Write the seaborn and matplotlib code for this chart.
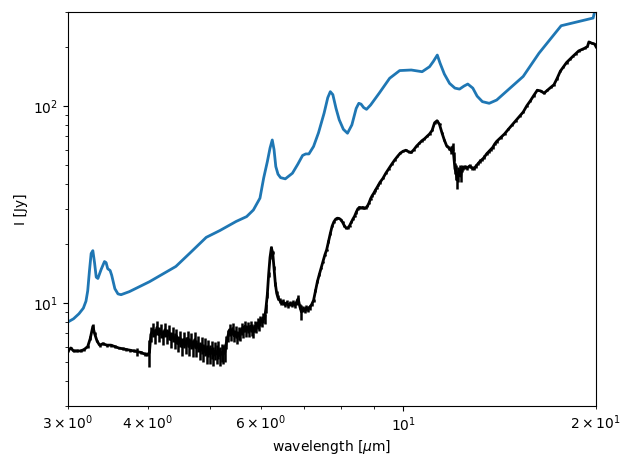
import matplotlib
matplotlib.use("Agg")
import matplotlib.pyplot as plt
import seaborn as sns
import pandas as pd

# Model (blue) curve
model_wave = [3.00, 3.06, 3.12, 3.17, 3.20, 3.22, 3.24, 3.26, 3.28, 3.30, 3.32, 3.34, 3.38, 3.42,
              3.44, 3.46, 3.49, 3.51, 3.55, 3.59, 3.63, 3.74, 4.02, 4.42, 4.65, 4.93, 5.18, 5.49,
              5.70, 5.84, 5.98, 6.06, 6.14, 6.20, 6.25, 6.29, 6.33, 6.38, 6.44, 6.55, 6.72, 6.85,
              6.97, 7.05, 7.13, 7.25, 7.38, 7.53, 7.63, 7.70, 7.77, 7.86, 7.95, 8.07, 8.19, 8.32,
              8.45, 8.53, 8.60, 8.68, 8.77, 8.90, 9.18, 9.53, 9.88, 10.3, 10.71, 11.0, 11.15, 11.31,
              11.42, 11.6, 11.82, 12.05, 12.25, 12.45, 12.62, 12.85, 13.05, 13.3, 13.63, 14.0, 15.4,
              16.3, 17.65, 19.8, 20.0]
model_flux = [8.0, 8.3, 8.8, 9.4, 10.2, 11.5, 14.5, 17.8, 18.4, 16.0, 13.5, 13.3, 14.8, 16.2,
              16.0, 14.9, 14.6, 13.8, 11.8, 11.1, 11.0, 11.4, 12.8, 15.3, 17.9, 21.5, 23.3, 25.9,
              27.4, 29.6, 34.0, 43.0, 52.0, 61.0, 67.1, 60.0, 49.2, 45.0, 43.2, 42.6, 45.5, 50.5,
              56.0, 57.0, 57.0, 62.2, 73.0, 91.8, 110.0, 118.0, 114.0, 97.0, 85.0, 76.0, 72.6, 80.0,
              97.0, 103.0, 102.0, 98.0, 96.0, 101.0, 116.0, 138.0, 151.0, 152.0, 149.0, 158.0, 168.0, 181.0,
              165.0, 145.0, 130.0, 123.0, 121.6, 126.0, 129.0, 123.0, 112.0, 105.0, 103.0, 107.0, 141.0,
              185.0, 255.0, 279.0, 320.0]

# Observed (black) spectrum with uncertainties
obs_wave = [3.00, 3.03, 3.06, 3.10, 3.14, 3.18, 3.22, 3.25, 3.28, 3.30, 3.33, 3.36, 3.40, 3.45,
            3.50, 3.55, 3.60, 3.65, 3.70, 3.75, 3.80, 3.85, 3.90, 3.95, 3.99, 4.02,
            4.04, 4.07, 4.10, 4.13, 4.16, 4.19, 4.22, 4.25, 4.28, 4.31, 4.34, 4.37, 4.40, 4.43,
            4.46, 4.49, 4.52, 4.55, 4.58, 4.61, 4.64, 4.67, 4.70, 4.73, 4.76, 4.79, 4.82, 4.85,
            4.88, 4.91, 4.94, 4.97, 5.00, 5.03, 5.06, 5.09, 5.12, 5.15, 5.18, 5.21, 5.24, 5.27,
            5.30, 5.33, 5.36, 5.39, 5.42, 5.45, 5.48, 5.51, 5.54, 5.57, 5.60, 5.63, 5.66, 5.69,
            5.72, 5.75, 5.78, 5.81, 5.84, 5.87, 5.90, 5.93, 5.96, 5.99, 6.02, 6.05, 6.08, 6.11,
            6.14, 6.17, 6.20, 6.23, 6.26, 6.29, 6.32, 6.35, 6.38, 6.42, 6.46, 6.50, 6.54, 6.58,
            6.62, 6.66, 6.70, 6.74, 6.78, 6.82, 6.86, 6.90, 6.94, 6.98, 7.02, 7.06, 7.10, 7.15,
            7.20, 7.25, 7.30, 7.35, 7.40, 7.45, 7.50, 7.55, 7.60, 7.65, 7.70, 7.75, 7.80, 7.85,
            7.90, 7.95, 8.00, 8.05, 8.10, 8.15, 8.20, 8.25, 8.30, 8.35, 8.40, 8.45, 8.50, 8.55,
            8.60, 8.65, 8.70, 8.75, 8.80, 8.85, 8.90, 8.95, 9.00, 9.05, 9.10, 9.15, 9.20, 9.30,
            9.40, 9.50, 9.60, 9.70, 9.80, 9.90, 10.0, 10.1, 10.2, 10.3, 10.4, 10.5, 10.6, 10.7,
            10.8, 10.9, 11.0, 11.1, 11.2, 11.3, 11.4, 11.5, 11.6, 11.7, 11.8, 11.9, 11.95, 12.0,
            12.05, 12.1, 12.15, 12.2, 12.25, 12.3, 12.35, 12.4, 12.5, 12.6, 12.7, 12.8, 12.9, 13.0,
            13.1, 13.2, 13.3, 13.4, 13.5, 13.6, 13.7, 13.8, 13.9, 14.0, 14.2, 14.4, 14.6, 14.8,
            15.0, 15.2, 15.4, 15.6, 15.8, 16.0, 16.2, 16.4, 16.6, 16.8, 17.0, 17.2, 17.4, 17.6,
            17.8, 18.0, 18.2, 18.4, 18.6, 18.8, 19.0, 19.2, 19.4, 19.5, 19.7, 19.9, 20.0]
obs_flux = [5.7, 5.9, 5.7, 5.7, 5.7, 5.8, 6.0, 6.6, 7.6, 7.0, 6.4, 6.1, 6.2, 6.1,
            6.1, 6.0, 5.9, 5.85, 5.8, 5.75, 5.7, 5.65, 5.6, 5.5, 5.45, 5.6,
            6.9, 7.3, 6.8, 7.5, 6.9, 7.2, 6.7, 7.3, 6.8, 7.1, 6.5, 6.9, 6.4, 6.8,
            6.2, 6.6, 6.0, 6.5, 6.1, 6.6, 6.0, 6.4, 5.9, 6.5, 5.9, 6.2, 5.7, 6.1,
            5.6, 6.0, 5.5, 5.9, 5.5, 5.8, 5.4, 5.7, 5.5, 5.8, 5.4, 5.6, 5.5, 5.6,
            6.3, 6.8, 7.3, 6.9, 7.4, 6.8, 7.1, 6.7, 7.0, 6.9, 7.4, 7.1, 7.6, 7.2,
            7.5, 7.2, 7.6, 7.3, 7.1, 7.6, 7.5, 7.9, 7.7, 8.1, 8.0, 8.4, 8.3, 9.4,
            11.0, 14.0, 17.0, 19.0, 18.0, 15.0, 12.5, 11.2, 10.6, 10.3, 10.0, 10.1, 9.8, 10.0,
            9.7, 9.9, 9.8, 10.0, 9.7, 10.1, 10.5, 9.6, 9.0, 9.3, 9.2, 9.4, 9.3, 9.5,
            9.8, 10.3, 11.5, 12.8, 13.9, 15.0, 16.2, 17.5, 18.6, 20.5, 22.5, 24.5, 25.8, 26.6,
            26.9, 26.8, 26.4, 25.6, 24.6, 24.0, 24.0, 24.6, 25.6, 26.6, 27.5, 28.8, 30.0, 30.5,
            30.4, 30.5, 30.2, 30.4, 31.0, 32.2, 33.8, 35.0, 36.0, 37.2, 38.3, 39.5, 40.8, 42.8,
            45.5, 48.0, 50.5, 53.0, 55.3, 57.5, 58.8, 59.5, 58.5, 58.0, 60.0, 62.5, 64.5, 66.5,
            68.0, 70.0, 72.0, 75.0, 82.0, 84.0, 80.5, 73.0, 67.0, 62.5, 61.0, 59.0, 62.0, 55.5,
            48.0, 46.0, 42.0, 45.0, 47.0, 44.0, 48.0, 48.5, 49.0, 48.5, 49.5, 48.5, 48.0, 49.5,
            51.0, 52.5, 53.5, 55.0, 57.0, 58.5, 60.0, 61.5, 64.0, 66.0, 69.0, 72.0, 76.0, 80.0,
            84.0, 88.5, 93.0, 100.0, 106.0, 113.0, 120.0, 119.0, 116.0, 120.0, 124.0, 128.0, 138.0, 150.0,
            158.0, 166.0, 172.0, 178.0, 184.0, 190.0, 193.0, 196.0, 200.0, 211.0, 208.0, 206.0, 200.0]
obs_err = [0.1, 0.1, 0.1, 0.1, 0.1, 0.1, 0.1, 0.15, 0.2, 0.15, 0.1, 0.1, 0.1, 0.1,
           0.1, 0.1, 0.1, 0.1, 0.1, 0.1, 0.1, 0.25, 0.1, 0.1, 0.1, 0.9,
           0.6, 0.6, 0.6, 0.6, 0.6, 0.6, 0.6, 0.6, 0.6, 0.6, 0.6, 0.6, 0.6, 0.6,
           0.6, 0.6, 0.6, 0.6, 0.6, 0.6, 0.6, 0.6, 0.6, 0.6, 0.6, 0.6, 0.6, 0.6,
           0.6, 0.6, 0.6, 0.6, 0.6, 0.6, 0.6, 0.6, 0.6, 0.6, 0.6, 0.6, 0.6, 0.6,
           0.5, 0.5, 0.5, 0.5, 0.5, 0.5, 0.5, 0.5, 0.5, 0.5, 0.5, 0.5, 0.5, 0.5,
           0.5, 0.5, 0.5, 0.5, 0.5, 0.5, 0.5, 0.5, 0.5, 0.5, 0.5, 0.5, 0.5, 0.5,
           0.4, 0.4, 0.4, 0.4, 0.4, 0.4, 0.3, 0.3, 0.3, 0.3, 0.3, 0.3, 0.3, 0.3,
           0.3, 0.3, 0.3, 0.3, 0.3, 0.3, 0.4, 0.3, 0.8, 0.3, 0.3, 0.3, 0.3, 0.3,
           0.2, 0.2, 0.2, 0.2, 0.2, 0.2, 0.2, 0.2, 0.2, 0.3, 0.3, 0.3, 0.3, 0.3,
           0.3, 0.3, 0.3, 0.3, 0.3, 0.3, 0.3, 0.3, 0.3, 0.3, 0.3, 0.4, 0.4, 0.4,
           0.4, 0.4, 0.4, 0.4, 0.4, 0.4, 0.4, 0.4, 0.4, 0.5, 0.5, 0.5, 0.5, 0.5,
           0.6, 0.6, 0.6, 0.6, 0.6, 0.6, 0.7, 0.7, 0.7, 0.7, 0.7, 0.7, 0.7, 0.8,
           0.8, 0.8, 0.8, 0.9, 0.9, 1.0, 1.0, 1.0, 1.0, 1.0, 1.5, 2.0, 3.0, 3.0,
           3.0, 4.0, 4.0, 4.0, 3.0, 3.0, 2.0, 1.0, 1.0, 1.0, 1.0, 1.0, 1.0, 1.0,
           1.0, 1.0, 1.0, 1.0, 1.0, 1.0, 1.0, 1.0, 1.0, 1.0, 1.0, 1.0, 1.0, 1.0,
           1.0, 1.0, 1.0, 1.0, 1.5, 1.5, 1.5, 1.5, 1.5, 1.5, 1.5, 1.5, 2.0, 2.0,
           2.0, 2.0, 2.0, 2.0, 2.0, 2.0, 2.0, 2.0, 2.0, 3.0, 3.0, 3.0, 3.0]

model_df = pd.DataFrame({"wavelength": model_wave, "flux": model_flux})
obs_df = pd.DataFrame({"wavelength": obs_wave, "flux": obs_flux, "err": obs_err})

fig, ax = plt.subplots(figsize=(6.24, 4.55), dpi=100)
sns.lineplot(data=model_df, x="wavelength", y="flux", ax=ax, color="#1f77b4",
             linewidth=2, sort=False, estimator=None)
ax.errorbar(obs_df["wavelength"], obs_df["flux"], yerr=obs_df["err"],
            color="black", linewidth=2, elinewidth=1.8, capsize=0)

ax.set_xscale("log")
ax.set_yscale("log")
ax.set_xlim(3, 20)
ax.set_ylim(3, 300)
ax.set_xlabel(r"wavelength [$\mu$m]", labelpad=3)
ax.set_ylabel("I [Jy]")
fig.subplots_adjust(left=0.109, right=0.955, top=0.974, bottom=0.108)
fig.savefig("out.png", dpi=100)
